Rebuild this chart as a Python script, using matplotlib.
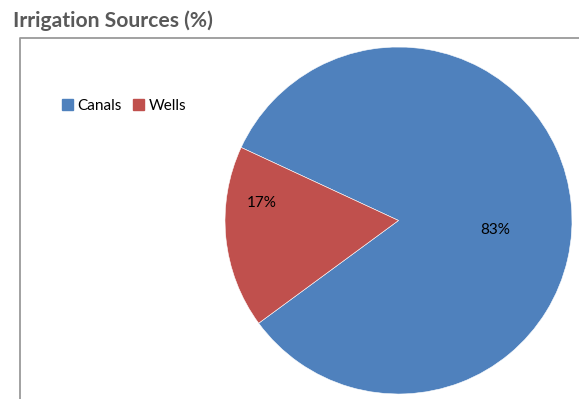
#!/usr/bin/env python3
"""Pie chart of irrigation sources."""

import matplotlib
matplotlib.use("Agg")
import matplotlib.pyplot as plt
from matplotlib.lines import Line2D
from matplotlib import patches as mpatches

SOURCES = ["Canals", "Wells"]
SHARES = [83, 17]
COLORS = ["#4F81BD", "#C0504D"]

W, H = 579, 399

fig = plt.figure(figsize=(W / 100, H / 100), dpi=100)
plt.rcParams['font.family'] = ['Lato', 'DejaVu Sans']

# chart area border (top and left sides only)
fig.add_artist(Line2D([20 / W, 20 / W, 1], [0, 1 - 38 / H, 1 - 38 / H],
                      color="#9a9a9a", lw=1.3, transform=fig.transFigure))

fig.text(13 / W, 1 - 27 / H, "Irrigation Sources (%)", fontsize=15.2,
         fontweight="bold", color="#595959", ha="left", va="baseline")

# pie: center (398.5, 220.5) px, radius 173.5 px
cx, cy, r = 398.5, 220.5, 173.5
ax = fig.add_axes([(cx - r) / W, (H - cy - r) / H, 2 * r / W, 2 * r / H])
wedges, texts, autotexts = ax.pie(SHARES, colors=COLORS, startangle=216.3,
                                  counterclock=True, autopct="%d%%",
                                  wedgeprops=dict(edgecolor="white", linewidth=0.4),
                                  textprops=dict(fontsize=11, color="black"))
ax.set_xlim(-1, 1)
ax.set_ylim(-1, 1)
ax.set_aspect("equal")

# data label placement
for t, pos in zip(autotexts, [(0.56, -0.055), (-0.79, 0.10)]):
    t.set_position(pos)

fig.legend(handles=[mpatches.Patch(color=c, label=s) for s, c in zip(SOURCES, COLORS)],
           loc="center left", bbox_to_anchor=(62 / W, 1 - 106 / H), ncol=2,
           frameon=False, fontsize=11, handlelength=0.7, handleheight=0.7,
           handletextpad=0.3, columnspacing=0.75, borderaxespad=0, borderpad=0)

fig.savefig("out.png", dpi=100)
